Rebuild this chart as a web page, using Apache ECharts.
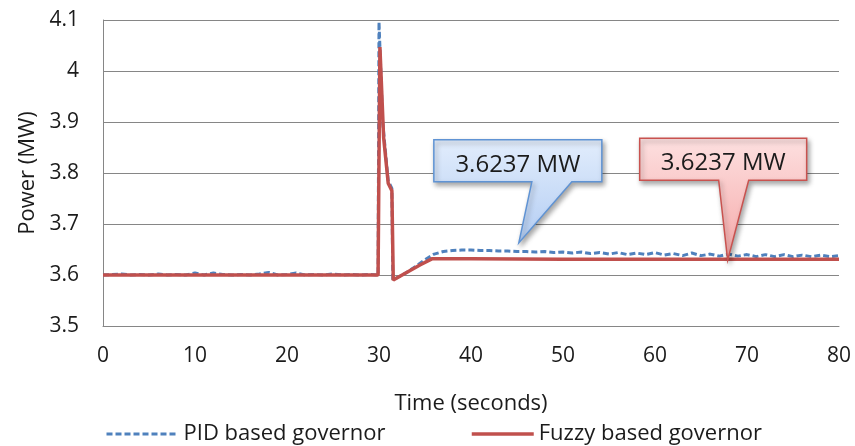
<!DOCTYPE html>
<html>
<head>
<meta charset="utf-8">
<script src="https://cdn.jsdelivr.net/npm/echarts@6/dist/echarts.min.js"></script>
<style>
html,body{margin:0;padding:0;background:#fff;}
#chart{width:855px;height:446px;}
</style>
</head>
<body>
<div id="chart"></div>
<script>
// ---- Data ----
const seriesNames = ['PID based governor', 'Fuzzy based governor'];
const yTicks = [3.5, 3.6, 3.7, 3.8, 3.9, 4.0, 4.1];
const xTicks = [0, 10, 20, 30, 40, 50, 60, 70, 80];

const pidTime = [0,1,2,3,4,5,6,7,8,9,10,11,12,13,14,15,16,17,18,19,20,21,22,23,24,25,26,27,28,29,
  29.9,30.0,30.4,31.0,31.4,31.5,
  32,33,34,35,36,37,38,39,40,41,42,43,44,45,46,47,48,49,50,51,52,53,54,55,56,57,58,59,60,
  61,62,63,64,65,66,67,68,69,70,71,72,73,74,75,76,77,78,79,80];
const pidPower = [3.600,3.601,3.602,3.600,3.601,3.600,3.602,3.600,3.601,3.600,3.604,3.600,3.604,3.601,3.600,3.601,3.600,3.602,3.605,3.600,3.601,3.604,3.600,3.601,3.600,3.602,3.600,3.601,3.600,3.601,
  3.600,4.096,3.900,3.785,3.770,3.590,
  3.595,3.605,3.617,3.630,3.641,3.646,3.648,3.649,3.649,3.648,3.648,3.647,3.647,3.646,3.646,3.645,3.646,3.644,3.645,3.643,3.645,3.642,3.644,3.641,3.644,3.640,3.643,3.640,3.644,
  3.639,3.642,3.638,3.643,3.638,3.641,3.637,3.641,3.637,3.640,3.636,3.640,3.636,3.640,3.636,3.639,3.636,3.639,3.636,3.638];

const fuzzyTime = [0,10,20,29.9,30.1,30.5,31.0,31.4,31.55,33,34.5,35.8,40,50,60,70,80];
const fuzzyPower = [3.600,3.600,3.600,3.600,4.047,3.870,3.780,3.765,3.590,3.605,3.620,3.632,3.632,3.631,3.631,3.631,3.631];

const calloutText = ['3.6237 MW', '3.6237 MW'];
const calloutTip = [[45.2, 3.663], [67.9, 3.629]];

// ---- Chart ----
const zip = (a, b) => a.map((t, i) => [t, b[i]]);
const FONT = '"Open Sans", "Liberation Sans", sans-serif';
const TXT = '#1b1b1b';

const chart = echarts.init(document.getElementById('chart'), null, {renderer: 'canvas'});
const option = {
  animation: false,
  backgroundColor: '#ffffff',
  grid: {left: 103, right: 16, top: 20, bottom: 120},
  xAxis: {
    type: 'value', min: xTicks[0], max: xTicks[xTicks.length - 1], interval: 10,
    name: 'Time (seconds)', nameLocation: 'middle', nameGap: 67,
    nameTextStyle: {fontFamily: FONT, fontSize: 22, color: TXT},
    axisLine: {show: true, lineStyle: {color: '#868686', width: 1}},
    axisTick: {show: false},
    splitLine: {show: false},
    axisLabel: {margin: 20, fontFamily: FONT, fontSize: 21, color: TXT}
  },
  yAxis: {
    type: 'value', min: yTicks[0], max: yTicks[yTicks.length - 1], interval: 0.1,
    name: 'Power (MW)', nameLocation: 'middle', nameGap: 63, nameRotate: 90,
    nameTextStyle: {fontFamily: FONT, fontSize: 22, color: TXT},
    axisLine: {show: true, lineStyle: {color: '#868686', width: 1}},
    axisTick: {show: false},
    splitLine: {show: true, lineStyle: {color: '#868686', width: 1}},
    axisLabel: {margin: 24, fontFamily: FONT, fontSize: 21, color: TXT,
      formatter: v => String(+v.toFixed(1))}
  },
  legend: [
    {data: [seriesNames[0]], left: 100, top: 418, itemWidth: 72, itemHeight: 14,
     itemStyle: {opacity: 0}, lineStyle: {width: 3},
     textStyle: {fontFamily: FONT, fontSize: 22, color: TXT}},
    {data: [seriesNames[1]], left: 465, top: 418, itemWidth: 62, itemHeight: 14,
     itemStyle: {opacity: 0}, lineStyle: {width: 3.5},
     textStyle: {fontFamily: FONT, fontSize: 22, color: TXT}}
  ],
  series: [
    {name: seriesNames[0], type: 'line', data: zip(pidTime, pidPower), symbol: 'none',
     lineStyle: {color: '#4f81bd', width: 3, type: [6, 3]}, itemStyle: {color: '#4f81bd'}, z: 2},
    {name: seriesNames[1], type: 'line', data: zip(fuzzyTime, fuzzyPower), symbol: 'none',
     lineStyle: {color: '#c0504d', width: 3.5}, itemStyle: {color: '#c0504d'}, z: 3}
  ]
};
chart.setOption(option);

// Callouts anchored at data coordinates of their tips
function callout(tipData, box, base, text, fillTop, fillBot, stroke) {
  const tip = chart.convertToPixel({gridIndex: 0}, tipData);
  // box/base are offsets relative to the tip (pixels)
  const x0 = tip[0] + box[0], y0 = tip[1] + box[1], x1 = x0 + box[2], y1 = y0 + box[3];
  const b0 = tip[0] + base[0], b1 = tip[0] + base[1];
  return [{
    type: 'polygon', z: 50,
    shape: {points: [[x0, y0], [x1, y0], [x1, y1], [b1, y1], tip, [b0, y1], [x0, y1]]},
    style: {
      fill: new echarts.graphic.LinearGradient(0, 0, 0, 1, [{offset: 0, color: fillTop}, {offset: 1, color: fillBot}]),
      stroke: stroke, lineWidth: 1.5,
      shadowBlur: 5, shadowOffsetX: 2, shadowOffsetY: 3, shadowColor: 'rgba(0,0,0,0.35)'
    }
  }, {
    type: 'text', z: 51,
    x: (x0 + x1) / 2, y: (y0 + y1) / 2 + 4,
    style: {text: text, fontFamily: FONT, fontSize: 24, fill: '#1b1b1b', align: 'center', verticalAlign: 'middle'}
  }];
}
const g1 = callout(calloutTip[0], [-85, -103, 168, 42], [13, 53], calloutText[0], '#e2edfc', '#b3cdf3', '#5f93d4');
const g2 = callout(calloutTip[1], [-88, -122, 167, 42], [-9, 21], calloutText[1], '#fde0e0', '#f5a8a8', '#c9524f');
chart.setOption({graphic: g1.concat(g2)});
</script>
</body>
</html>
